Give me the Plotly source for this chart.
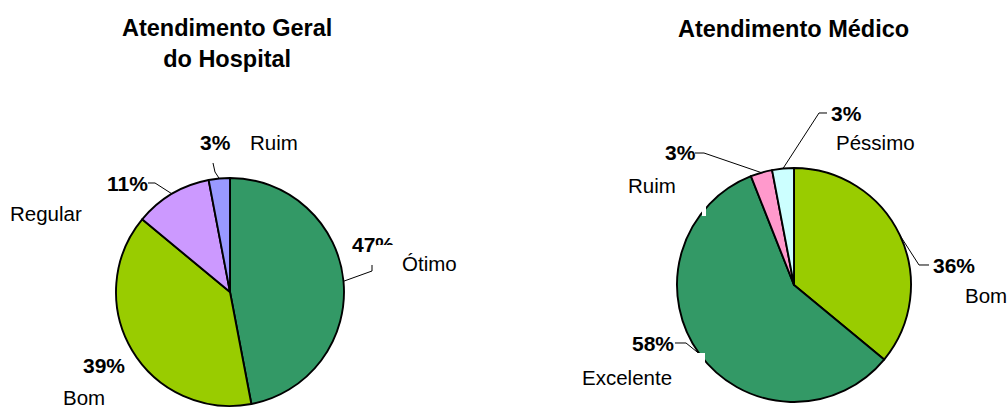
import math
import plotly.graph_objects as go

# ---------------- data ----------------
geral_labels = ["Ótimo", "Bom", "Regular", "Ruim"]
geral_values = [47, 39, 11, 3]
geral_colors = ["#339966", "#99CC00", "#CC99FF", "#9999FF"]

medico_labels = ["Bom", "Excelente", "Ruim", "Péssimo"]
medico_values = [36, 58, 3, 3]
medico_colors = ["#99CC00", "#339966", "#FF99CC", "#CCFFFF"]

title_geral = "Atendimento Geral<br>do Hospital"
title_medico = "Atendimento Médico"

# ---------------- layout constants (pixels) ----------------
W, H = 1008, 412
FONT = "Liberation Sans, Arial, sans-serif"

def fx(x):
    return x / W

def fy(y):
    return 1 - y / H

# pie centres / radii in pixels
PIE_L = dict(cx=230, cy=292, r=114)
PIE_R = dict(cx=794, cy=285, r=117)

def domain(p):
    return dict(x=[fx(p["cx"] - p["r"]), fx(p["cx"] + p["r"])],
                y=[fy(p["cy"] + p["r"]), fy(p["cy"] - p["r"])])

def mid_point(p, values, i):
    tot = sum(values)
    start = sum(values[:i]) / tot * 360
    mid = start + values[i] / tot * 360 / 2
    a = math.radians(mid)
    return p["cx"] + p["r"] * math.sin(a), p["cy"] - p["r"] * math.cos(a)

fig = go.Figure()
for p, labels, values, colors in [(PIE_L, geral_labels, geral_values, geral_colors),
                                  (PIE_R, medico_labels, medico_values, medico_colors)]:
    fig.add_trace(go.Pie(
        labels=labels, values=values, sort=False, direction="clockwise", rotation=0,
        marker=dict(colors=colors, line=dict(color="#000000", width=1.9)),
        textinfo="none", hoverinfo="label+percent", domain=domain(p), showlegend=False,
    ))

annotations = []
shapes = []

def text(x, y, s, size=20.5, bold=False, xanchor="center"):
    annotations.append(dict(
        x=fx(x), y=fy(y), xref="paper", yref="paper", text=("<b>%s</b>" % s) if bold else s,
        showarrow=False, xanchor=xanchor, yanchor="middle",
        font=dict(family=FONT, size=size, color="#000000")))

def cover(x0, y0, x1, y1):
    annotations.append(dict(
        x=fx(x0), y=fy(y0), xref="paper", yref="paper", text=" ", showarrow=False,
        xanchor="left", yanchor="top", width=x1 - x0, height=y1 - y0,
        bgcolor="#FFFFFF", borderpad=0, borderwidth=0, font=dict(size=4)))

def leader(pts):
    path = "M " + " L ".join("%.5f %.5f" % (fx(x), fy(y)) for x, y in pts)
    shapes.append(dict(type="path", xref="paper", yref="paper", path=path,
                       line=dict(color="#000000", width=1)))

# titles
text(227, 44, "<b>%s</b>" % title_geral, size=23.5)
text(793, 29, "<b>%s</b>" % title_medico, size=23.5)

def pct(values, i):
    return "%d%%" % round(values[i] / sum(values) * 100)

# ---- left pie labels ----
# Ótimo
leader([(372, 265), (372, 271), mid_point(PIE_L, geral_values, 0)])
text(373, 245, pct(geral_values, 0), size=21, bold=True)
cover(377, 245, 401, 266)
text(429, 263, geral_labels[0])
# Bom
text(104, 365, pct(geral_values, 1), size=21, bold=True)
text(84, 397, geral_labels[1])
# Regular
leader([(148, 183), (155, 183), mid_point(PIE_L, geral_values, 2)])
text(127, 183, pct(geral_values, 2), size=21, bold=True)
text(46, 213, geral_labels[2])
# Ruim
leader([(213, 163), (215, 172), mid_point(PIE_L, geral_values, 3)])
text(215, 143, pct(geral_values, 3), size=21, bold=True)
text(274, 143, geral_labels[3])

# ---- right pie labels ----
# Bom
leader([(929, 265), (919, 265), mid_point(PIE_R, medico_values, 0)])
text(931, 265, pct(medico_values, 0), size=21, bold=True, xanchor="left")
text(963, 295, medico_labels[0], xanchor="left")
# Excelente
leader([(675, 343), (686, 343), mid_point(PIE_R, medico_values, 1)])
text(653, 343, pct(medico_values, 1), size=21, bold=True)
text(627, 377, medico_labels[1])
cover(697, 353, 705, 368)
cover(702, 206, 706, 216)
# Ruim
leader([(695, 153), (704, 153), mid_point(PIE_R, medico_values, 2)])
text(680, 153, pct(medico_values, 2), size=21, bold=True)
text(652, 185, medico_labels[2])
# Péssimo
leader([(827, 113), (819, 113), mid_point(PIE_R, medico_values, 3)])
text(846, 113, pct(medico_values, 3), size=21, bold=True)
text(875, 143, medico_labels[3])

fig.update_layout(
    width=W, height=H, margin=dict(l=0, r=0, t=0, b=0),
    paper_bgcolor="#FFFFFF", plot_bgcolor="#FFFFFF",
    annotations=annotations, shapes=shapes,
    font=dict(family=FONT),
)

fig.write_html("out.html", config={"displayModeBar": False},
               post_script="document.body.style.margin='0';document.body.style.overflow='hidden';")
